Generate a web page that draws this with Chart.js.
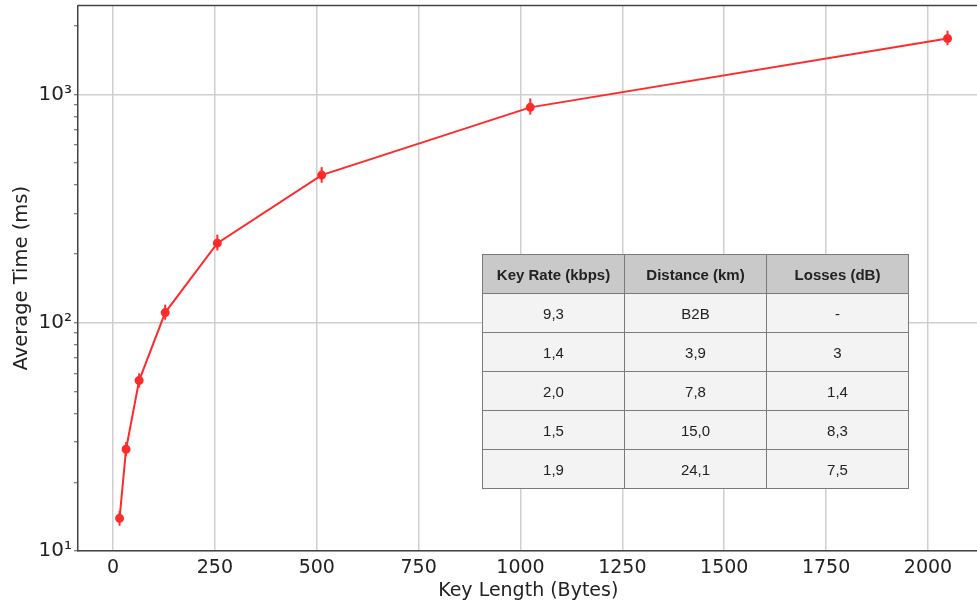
<!DOCTYPE html>
<html><head><meta charset="utf-8">
<script src="https://cdn.jsdelivr.net/npm/chart.js@4/dist/chart.umd.min.js"></script>
<style>
html,body{margin:0;padding:0;background:#fff;overflow:hidden;}
#wrap{position:relative;width:977px;height:604px;overflow:hidden;}
#tbl{position:absolute;left:482px;top:254px;border-collapse:collapse;font-family:"Liberation Sans",Arial,sans-serif;font-size:15px;color:#222;}
#tbl td,#tbl th{border:1px solid #7a7a7a;width:141px;height:38px;text-align:center;padding:0;}
#tbl th{background:#c9c9c9;font-weight:bold;}
#tbl td{background:#f3f3f3;}
</style></head>
<body>
<div id="wrap">
<canvas id="c" width="984" height="604"></canvas>
<table id="tbl"></table>
</div>
<script>
const keyLengths = [16, 32, 64, 128, 256, 512, 1024, 2048];
const avgTimes   = [13.9, 27.9, 55.8, 110.7, 223, 443, 877, 1757];
const errLow     = [12.9, 26.0, 52.0, 103, 207, 410, 815, 1640];
const errHigh    = [15.0, 30.0, 60.0, 120, 243, 480, 960, 1900];
const xTicks     = [0, 250, 500, 750, 1000, 1250, 1500, 1750, 2000];
const yMajor     = [10, 100, 1000];
const yMinor     = [20,30,40,50,60,70,80,90,200,300,400,500,600,700,800,900,2000];

const tableHeaders = ["Key Rate (kbps)", "Distance (km)", "Losses (dB)"];
const keyRates  = ["9,3", "1,4", "2,0", "1,5", "1,9"];
const distances = ["B2B", "3,9", "7,8", "15,0", "24,1"];
const losses    = ["-", "3", "1,4", "8,3", "7,5"];

// build table
const tbl = document.getElementById('tbl');
let html = '<tr>' + tableHeaders.map(h => '<th>' + h + '</th>').join('') + '</tr>';
for (let i = 0; i < keyRates.length; i++) {
  html += '<tr><td>' + keyRates[i] + '</td><td>' + distances[i] + '</td><td>' + losses[i] + '</td></tr>';
}
tbl.innerHTML = html;

const sup = {'1':'\u00B9','2':'\u00B2','3':'\u00B3'};
const isMajor = v => yMajor.includes(v);

const errorBars = {
  id: 'errorBars',
  afterDatasetsDraw(chart) {
    const ctx = chart.ctx, xs = chart.scales.x, ys = chart.scales.y;
    ctx.save();
    ctx.strokeStyle = '#ff2b2b';
    ctx.lineWidth = 2;
    for (let i = 0; i < keyLengths.length; i++) {
      const x = xs.getPixelForValue(keyLengths[i]);
      ctx.beginPath();
      ctx.moveTo(x, ys.getPixelForValue(errLow[i]));
      ctx.lineTo(x, ys.getPixelForValue(errHigh[i]));
      ctx.stroke();
    }
    ctx.restore();
  }
};
const topBorder = {
  id: 'topBorder',
  afterDraw(chart) {
    const a = chart.chartArea, ctx = chart.ctx;
    ctx.save();
    ctx.strokeStyle = '#444';
    ctx.lineWidth = 1.5;
    ctx.beginPath();
    ctx.moveTo(a.left, a.top);
    ctx.lineTo(a.right + 2, a.top);
    ctx.stroke();
    ctx.restore();
  }
};

new Chart(document.getElementById('c'), {
  type: 'line',
  data: {
    datasets: [{
      data: keyLengths.map((k, i) => ({x: k, y: avgTimes[i]})),
      borderColor: '#ff2b2b',
      backgroundColor: '#ff2b2b',
      borderWidth: 2,
      pointRadius: 3.5,
      pointHoverRadius: 3.5,
      tension: 0
    }]
  },
  options: {
    responsive: false,
    animation: false,
    events: [],
    layout: {padding: {top: 4, right: 0, bottom: 0, left: 0}},
    plugins: {legend: {display: false}, tooltip: {enabled: false}},
    scales: {
      x: {
        type: 'linear',
        min: -86, max: 2124,
        afterBuildTicks: s => { s.ticks = xTicks.map(v => ({value: v})); },
        afterFit: s => { s.height = 53; s.paddingRight = 0; s.paddingLeft = 0; },
        ticks: {
          font: {family: 'DejaVu Sans', size: 19},
          color: '#222',
          padding: 2,
          maxRotation: 0,
          callback: v => String(v)
        },
        grid: {color: '#cfcfcf', lineWidth: 1.5, tickLength: 4, tickColor: 'rgba(0,0,0,0)'},
        border: {color: '#444', width: 1.5},
        title: {display: true, text: 'Key Length (Bytes)', font: {family: 'DejaVu Sans', size: 19}, color: '#222', padding: {top: 0, bottom: 2}}
      },
      y: {
        type: 'logarithmic',
        min: 10, max: 2450,
        afterBuildTicks: s => { s.ticks = yMajor.concat(yMinor).sort((a,b)=>a-b).map(v => ({value: v, major: isMajor(v)})); },
        afterFit: s => { s.width = 78; s.paddingTop = 0; s.paddingBottom = 0; },
        ticks: {
          autoSkip: false,
          font: {family: 'DejaVu Sans', size: 20},
          color: '#222',
          padding: 2,
          callback: v => isMajor(v) ? '10' + sup[String(Math.round(Math.log10(v)))] : ''
        },
        grid: {
          color: c => (c.tick && isMajor(c.tick.value)) ? '#cfcfcf' : 'rgba(0,0,0,0)',
          lineWidth: 1.5,
          tickLength: 4,
          tickColor: '#555',
          tickWidth: 1
        },
        border: {color: '#444', width: 1.5},
        title: {display: true, text: 'Average Time (ms)', font: {family: 'DejaVu Sans', size: 19.5}, color: '#222', padding: {top: 10, bottom: 0}}
      }
    }
  },
  plugins: [errorBars, topBorder]
});
</script>
</body></html>
